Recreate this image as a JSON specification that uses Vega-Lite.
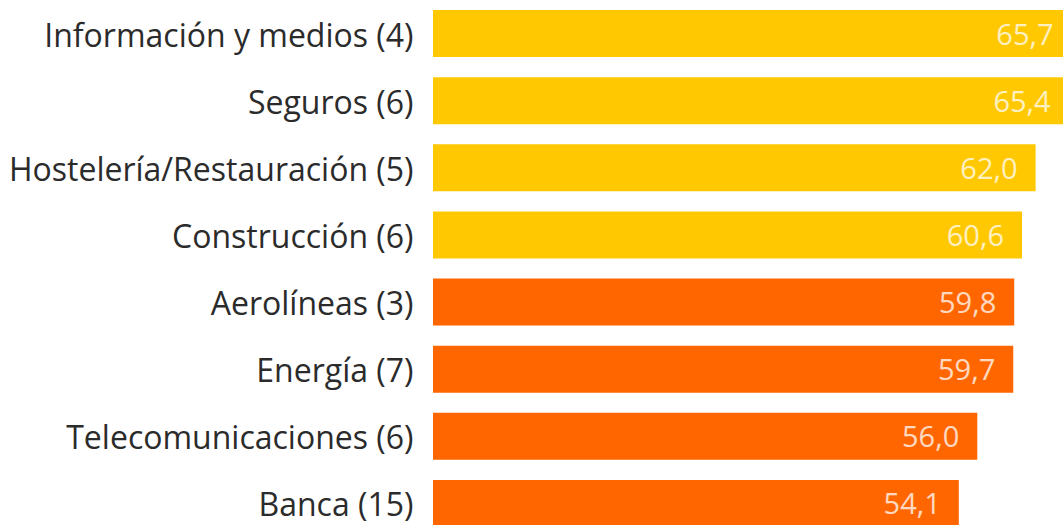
{
  "$schema": "https://vega.github.io/schema/vega-lite/v6.json",
  "autosize": "none",
  "width": 648,
  "height": 537,
  "padding": {"left": 433, "top": 0, "right": 0, "bottom": 0},
  "background": "white",
  "config": {"view": {"stroke": null}, "font": "Open Sans"},
  "data": {
    "values": [
      {"sector": "Información y medios (4)", "valor": 65.7, "etiqueta": "65,7", "grupo": "alto"},
      {"sector": "Seguros (6)", "valor": 65.4, "etiqueta": "65,4", "grupo": "alto"},
      {"sector": "Hostelería/Restauración (5)", "valor": 62.0, "etiqueta": "62,0", "grupo": "alto"},
      {"sector": "Construcción (6)", "valor": 60.6, "etiqueta": "60,6", "grupo": "alto"},
      {"sector": "Aerolíneas (3)", "valor": 59.8, "etiqueta": "59,8", "grupo": "bajo"},
      {"sector": "Energía (7)", "valor": 59.7, "etiqueta": "59,7", "grupo": "bajo"},
      {"sector": "Telecomunicaciones (6)", "valor": 56.0, "etiqueta": "56,0", "grupo": "bajo"},
      {"sector": "Banca (15)", "valor": 54.1, "etiqueta": "54,1", "grupo": "bajo"}
    ]
  },
  "encoding": {
    "y": {
      "field": "sector",
      "type": "nominal",
      "sort": null,
      "scale": {"paddingInner": 0.3, "paddingOuter": 0.15},
      "axis": {
        "title": null,
        "domain": false,
        "ticks": false,
        "labelPadding": 20,
        "labelOffset": 3,
        "labelFontSize": 32,
        "labelColor": "#2b2b2b",
        "labelFont": "Open Sans",
        "labelLimit": 500
      }
    },
    "x": {
      "field": "valor",
      "type": "quantitative",
      "scale": {"domain": [0, 66.67], "nice": false},
      "axis": null
    }
  },
  "layer": [
    {
      "mark": {"type": "bar", "clip": false},
      "encoding": {
        "color": {
          "field": "grupo",
          "type": "nominal",
          "scale": {"domain": ["alto", "bajo"], "range": ["#FFC800", "#FF6600"]},
          "legend": null
        }
      }
    },
    {
      "mark": {"type": "text", "align": "right", "dx": -18, "dy": 2, "fontSize": 29, "color": "white", "opacity": 0.75, "font": "Open Sans"},
      "encoding": {"text": {"field": "etiqueta"}}
    }
  ]
}
